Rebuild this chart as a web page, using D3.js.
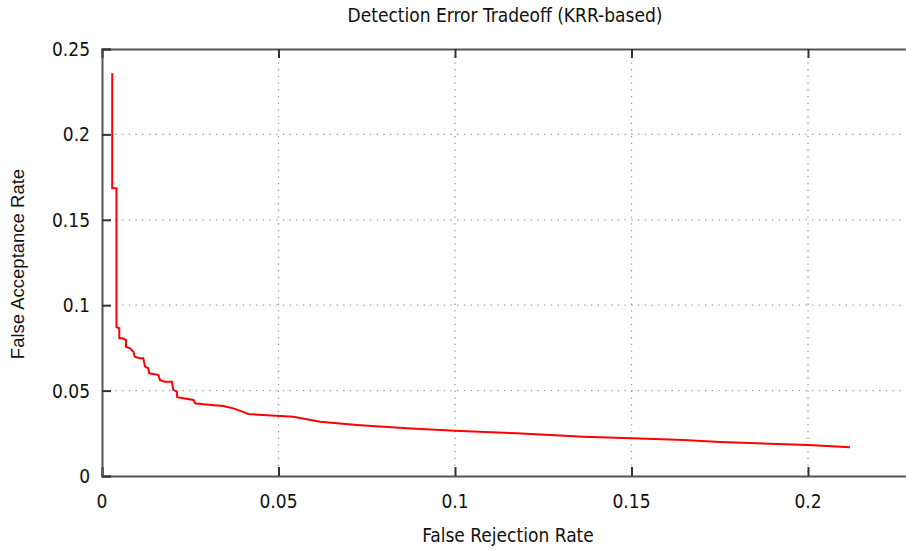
<!DOCTYPE html>
<html>
<head>
<meta charset="utf-8">
<script src="https://cdn.jsdelivr.net/npm/d3@7"></script>
<style>
	body { margin: 0; background: #fff; }
	svg { display: block; overflow: hidden; }
	.tick-label, .title, .x-label { font-family: "DejaVu Sans Condensed", "DejaVu Sans", sans-serif; fill: #111; }
	.y-label { font-family: "Liberation Sans", Arial, sans-serif; fill: #111; }
</style>
</head>
<body>
<div id="chart"></div>
<script>
const width = 906;
const height = 550;

// false rejection rate vs false acceptance rate
const frr = [
	0.0029, 0.0029, 0.0041, 0.0041, 0.0049, 0.0049, 0.0059, 0.0068, 0.0068, 0.0079,
	0.0089, 0.0093, 0.0106, 0.0117, 0.0122, 0.0131, 0.0134, 0.0145, 0.016, 0.0164,
	0.0176, 0.0198, 0.0202, 0.0212, 0.0213, 0.023, 0.0259, 0.0264, 0.0287, 0.0344,
	0.0372, 0.0405, 0.0414, 0.0504, 0.0542, 0.0618, 0.0722, 0.0863, 0.1, 0.1175,
	0.1363, 0.1501, 0.1647, 0.1751, 0.2001, 0.2119,
];
const far = [
	0.2358, 0.1684, 0.1684, 0.0872, 0.0865, 0.0806, 0.0806, 0.0796, 0.0757, 0.0748,
	0.0728, 0.0698, 0.0689, 0.0689, 0.064, 0.0631, 0.0601, 0.0597, 0.0591, 0.0562,
	0.0552, 0.0552, 0.0504, 0.0494, 0.0461, 0.0455, 0.0445, 0.0426, 0.042, 0.041,
	0.0396, 0.0371, 0.0363, 0.0351, 0.0347, 0.0318, 0.0299, 0.0279, 0.0265, 0.025,
	0.023, 0.0221, 0.0211, 0.0199, 0.0181, 0.0168,
];
const xTicks = [0, 0.05, 0.1, 0.15, 0.2];
const yTicks = [0, 0.05, 0.1, 0.15, 0.2, 0.25];

const plotLeft = 102;
const plotTop = 49;
const plotBottom = 476;

let svg = d3
	.select("#chart")
	.append("svg")
	.attr("width", width)
	.attr("height", height);

const x = d3.scaleLinear().domain([0, 0.25]).range([plotLeft, plotLeft + 5 * 176.5]);
const y = d3.scaleLinear().domain([0, 0.25]).range([plotBottom, plotTop]);

// dotted grid
svg
	.selectAll(".grid-x")
	.data(xTicks.filter((d) => d > 0))
	.join("line")
	.attr("x1", (d) => x(d))
	.attr("x2", (d) => x(d))
	.attr("y1", plotTop)
	.attr("y2", plotBottom)
	.style("stroke", "#999")
	.style("stroke-width", 1.3)
	.style("stroke-dasharray", "1.3,5.4");

svg
	.selectAll(".grid-y")
	.data(yTicks.filter((d) => d > 0 && d < 0.25))
	.join("line")
	.attr("x1", plotLeft)
	.attr("x2", width)
	.attr("y1", (d) => y(d))
	.attr("y2", (d) => y(d))
	.style("stroke", "#999")
	.style("stroke-width", 1.3)
	.style("stroke-dasharray", "1.3,5.4");

// axes (inward ticks, labels placed by hand below)
const axisColor = "#555";
const bottomAxis = svg
	.append("g")
	.attr("transform", "translate(0," + plotBottom + ")")
	.call(d3.axisBottom(x).tickValues(xTicks).tickSize(-9).tickFormat(""));
const topAxis = svg
	.append("g")
	.attr("transform", "translate(0," + plotTop + ")")
	.call(d3.axisTop(x).tickValues(xTicks).tickSize(-9).tickFormat(""));
const leftAxis = svg
	.append("g")
	.attr("transform", "translate(" + plotLeft + ",0)")
	.call(d3.axisLeft(y).tickValues(yTicks).tickSize(-9).tickFormat(""));

[bottomAxis, topAxis, leftAxis].forEach((g) => {
	g.select(".domain").style("stroke", axisColor).style("stroke-width", 2);
	g.selectAll(".tick line").style("stroke", "#333").style("stroke-width", 2);
});

// tick labels
svg
	.selectAll(".x-tick")
	.data(xTicks)
	.join("text")
	.attr("class", "tick-label")
	.attr("x", (d) => x(d))
	.attr("y", 508)
	.attr("text-anchor", "middle")
	.attr("font-size", "19px")
	.text((d) => d3.format("~g")(d));

svg
	.selectAll(".y-tick")
	.data(yTicks)
	.join("text")
	.attr("class", "tick-label")
	.attr("x", 90)
	.attr("y", (d) => y(d) + 7)
	.attr("text-anchor", "end")
	.attr("font-size", "19px")
	.text((d) => d3.format("~g")(d));

// curve
const line = d3
	.line()
	.x((d, i) => x(frr[i]))
	.y((d, i) => y(far[i]));

svg
	.append("path")
	.datum(frr)
	.attr("d", line)
	.style("fill", "none")
	.style("stroke", "#ff0000")
	.style("stroke-width", 2);

// titles
svg
	.append("text")
	.attr("class", "title")
	.attr("x", 505)
	.attr("y", 22)
	.attr("text-anchor", "middle")
	.attr("font-size", "19px")
	.text("Detection Error Tradeoff (KRR-based)");

svg
	.append("text")
	.attr("class", "x-label")
	.attr("x", 508)
	.attr("y", 542)
	.attr("text-anchor", "middle")
	.attr("font-size", "19px")
	.text("False Rejection Rate");

svg
	.append("text")
	.attr("class", "y-label")
	.attr("transform", "translate(24,264) rotate(-90)")
	.attr("text-anchor", "middle")
	.attr("font-size", "18.5px")
	.text("False Acceptance Rate");
</script>
</body>
</html>
